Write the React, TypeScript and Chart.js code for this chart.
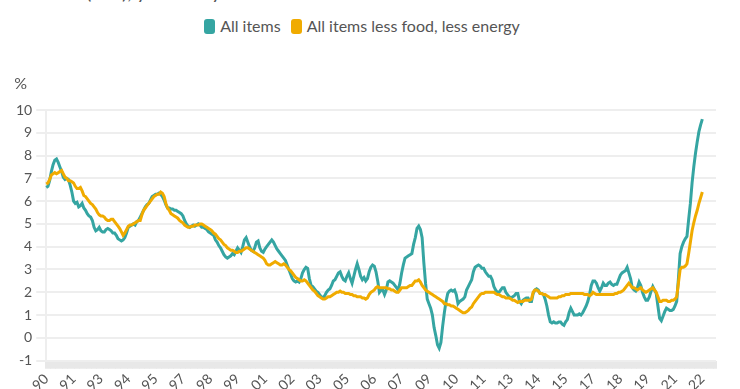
import React, { useEffect, useRef } from "react";
import { Chart, registerables } from "chart.js";

Chart.register(...registerables);

// Monthly series, first value = June 1990
const START_YEAR = 1990;
const START_MONTH = 6;
const EXTRA_MONTHS = 8; // empty months at the right end of the axis
const TICK_STEP = 16;
const TICK_LABELS = ["90", "91", "93", "94", "95", "97", "98", "99", "01", "02", "03", "05", "06", "07", "09", "10", "11", "13", "14", "15", "17", "18", "19", "21", "22"];

const Y_MIN = -1;
const Y_MAX = 10;

const ALL_ITEMS = [
  6.6, 6.65, 6.9, 7.3, 7.6, 7.8, 7.85, 7.7, 7.5, 7.3, 7.05, 6.95,
  7.0, 6.95, 6.7, 6.4, 6.0, 5.9, 5.95, 5.75, 5.8, 5.9, 5.7, 5.6,
  5.45, 5.35, 5.3, 5.15, 4.85, 4.7, 4.75, 4.85, 4.7, 4.65, 4.65, 4.75,
  4.8, 4.75, 4.7, 4.6, 4.6, 4.5, 4.35, 4.3, 4.25, 4.3, 4.4, 4.6,
  4.85, 4.9, 4.95, 5.0, 4.95, 5.1, 5.15, 5.3, 5.45, 5.6, 5.75, 5.85,
  5.9, 6.05, 6.2, 6.25, 6.3, 6.3, 6.35, 6.3, 6.2, 6.05, 5.85, 5.7,
  5.7, 5.65, 5.65, 5.6, 5.6, 5.55, 5.5, 5.45, 5.35, 5.15, 5.0, 4.9,
  4.85, 4.9, 4.95, 4.9, 4.95, 5.0, 4.95, 4.85, 4.85, 4.8, 4.75, 4.65,
  4.6, 4.55, 4.5, 4.3, 4.2, 4.05, 3.95, 3.8, 3.65, 3.55, 3.5, 3.55,
  3.6, 3.7, 3.65, 3.8, 3.95, 3.85, 3.75, 4.0, 4.3, 4.4, 4.2, 4.0,
  3.85, 3.8, 3.95, 4.2, 4.25, 3.95, 3.8, 3.75, 3.9, 4.0, 4.1, 4.2,
  4.3, 4.2, 4.05, 3.9, 3.8, 3.7, 3.6, 3.5, 3.4, 3.2, 3.0, 2.8,
  2.6, 2.5, 2.45, 2.5, 2.45, 2.6, 2.85, 3.0, 3.1, 3.05, 2.6, 2.3,
  2.25, 2.15, 2.05, 2.0, 1.9, 1.8, 1.75, 1.85, 2.0, 2.1, 2.15, 2.3,
  2.5, 2.55, 2.7, 2.85, 2.9, 2.7, 2.55, 2.5, 2.7, 2.85, 2.6, 2.4,
  2.7, 3.0, 3.25, 3.0, 2.7, 2.55, 2.65, 2.5, 2.6, 2.9, 3.1, 3.2,
  3.15, 2.9, 2.5, 2.0, 2.1, 2.1, 1.9, 2.1, 2.45, 2.5, 2.45, 2.4,
  2.3, 2.2, 2.1, 2.4, 2.85, 3.2, 3.5, 3.55, 3.6, 3.65, 3.7, 4.1,
  4.4, 4.8, 4.9, 4.75, 4.4, 3.3, 2.4, 1.7, 1.5, 1.3, 1.0, 0.45,
  0.1, -0.3, -0.45, -0.2, 0.5, 1.1, 1.6, 1.95, 2.05, 2.1, 2.05, 2.1,
  1.9, 1.5, 1.6, 1.65, 1.7, 1.8, 2.1, 2.25, 2.4, 2.55, 2.9, 3.1,
  3.15, 3.2, 3.15, 3.05, 3.05, 2.9, 2.8, 2.7, 2.7, 2.55, 2.25, 2.1,
  2.0, 2.0, 2.1, 2.2, 2.2, 2.0, 1.9, 1.8, 1.75, 1.8, 1.85, 1.95,
  1.95, 1.6, 1.5, 1.65, 1.7, 1.75, 1.75, 1.6, 1.6, 1.95, 2.1, 2.15,
  2.1, 1.95, 1.95, 1.9, 1.7, 1.4, 1.0, 0.7, 0.65, 0.7, 0.65, 0.65,
  0.7, 0.7, 0.6, 0.55, 0.7, 0.8, 1.1, 1.3, 1.15, 1.0, 1.0, 1.0,
  1.05, 1.0, 1.1, 1.25, 1.4, 1.6, 1.9, 2.3, 2.5, 2.5, 2.4, 2.2,
  2.05, 2.2, 2.4, 2.3, 2.3, 2.4, 2.45, 2.35, 2.3, 2.35, 2.35, 2.55,
  2.75, 2.85, 2.9, 2.95, 3.1, 2.85, 2.6, 2.2, 2.1, 2.05, 2.2, 2.45,
  2.3, 2.0, 1.8, 1.65, 1.65, 1.8, 2.05, 2.25, 2.1, 1.95, 1.4, 0.85,
  0.75, 0.95, 1.15, 1.3, 1.25, 1.2, 1.2, 1.25, 1.4, 1.6, 2.6, 3.7,
  4.0, 4.2, 4.35, 4.45, 5.2, 5.9, 6.8, 7.5, 8.1, 8.6, 9.05, 9.35, 9.6,
];

const CORE = [
  6.75, 6.8, 6.95, 7.15, 7.2, 7.25, 7.2, 7.25, 7.3, 7.35, 7.2, 7.05,
  7.0, 6.9, 6.9, 6.85, 6.8, 6.65, 6.55, 6.55, 6.6, 6.45, 6.25, 6.2,
  6.1, 6.0, 5.9, 5.85, 5.75, 5.65, 5.5, 5.4, 5.35, 5.35, 5.3, 5.2,
  5.15, 5.15, 5.2, 5.2, 5.1, 5.0, 4.9, 4.8, 4.65, 4.5, 4.6, 4.75,
  4.9, 4.95, 4.95, 5.0, 5.05, 5.1, 5.15, 5.15, 5.4, 5.6, 5.7, 5.8,
  5.9, 6.0, 6.1, 6.2, 6.25, 6.3, 6.3, 6.4, 6.35, 6.2, 5.9, 5.7,
  5.6, 5.45, 5.4, 5.35, 5.3, 5.25, 5.15, 5.1, 5.05, 4.95, 4.9, 4.85,
  4.85, 4.9, 4.9, 4.95, 4.95, 4.95, 5.0, 5.0, 4.95, 4.9, 4.85, 4.8,
  4.75, 4.7, 4.6, 4.55, 4.45, 4.35, 4.3, 4.2, 4.1, 4.05, 3.95, 3.9,
  3.85, 3.85, 3.8, 3.75, 3.75, 3.8, 3.8, 3.85, 3.9, 3.95, 3.95, 3.9,
  3.85, 3.8, 3.75, 3.7, 3.65, 3.6, 3.55, 3.5, 3.4, 3.25, 3.2, 3.2,
  3.25, 3.3, 3.35, 3.3, 3.25, 3.2, 3.2, 3.25, 3.2, 3.1, 3.0, 2.95,
  2.85, 2.75, 2.65, 2.6, 2.55, 2.5, 2.5, 2.55, 2.5, 2.4, 2.3, 2.2,
  2.1, 2.05, 1.95, 1.85, 1.8, 1.75, 1.7, 1.7, 1.75, 1.8, 1.8, 1.85,
  1.9, 1.95, 2.0, 2.0, 2.05, 2.0, 2.0, 1.95, 1.95, 1.95, 1.9, 1.9,
  1.85, 1.85, 1.8, 1.8, 1.8, 1.75, 1.75, 1.7, 1.75, 1.9, 2.0, 2.05,
  2.1, 2.2, 2.25, 2.2, 2.2, 2.2, 2.2, 2.2, 2.15, 2.15, 2.1, 2.1,
  2.05, 2.0, 2.0, 2.1, 2.2, 2.2, 2.2, 2.2, 2.25, 2.3, 2.3, 2.4,
  2.5, 2.5, 2.55, 2.45, 2.3, 2.2, 2.1, 2.05, 2.0, 1.95, 1.9, 1.85,
  1.8, 1.75, 1.7, 1.65, 1.6, 1.5, 1.5, 1.45, 1.45, 1.4, 1.4, 1.35,
  1.3, 1.25, 1.2, 1.15, 1.1, 1.1, 1.15, 1.2, 1.3, 1.35, 1.5, 1.6,
  1.7, 1.8, 1.9, 1.95, 1.95, 2.0, 2.0, 2.0, 2.0, 2.0, 2.0, 1.95,
  1.9, 1.9, 1.85, 1.8, 1.8, 1.75, 1.75, 1.75, 1.7, 1.65, 1.65, 1.6,
  1.55, 1.6, 1.6, 1.6, 1.65, 1.65, 1.65, 1.65, 1.7, 2.0, 2.1, 2.1,
  2.05, 1.95, 1.95, 1.9, 1.9, 1.85, 1.8, 1.75, 1.75, 1.75, 1.75, 1.75,
  1.8, 1.8, 1.85, 1.85, 1.9, 1.9, 1.9, 1.95, 1.95, 1.95, 1.95, 1.95,
  1.95, 1.95, 1.95, 1.9, 1.9, 1.9, 1.85, 1.9, 2.0, 1.95, 1.9, 1.9,
  1.9, 1.9, 1.9, 1.9, 1.9, 1.9, 1.9, 1.9, 1.9, 1.95, 1.95, 2.0,
  2.0, 2.05, 2.1, 2.2, 2.3, 2.4, 2.3, 2.2, 2.2, 2.15, 2.1, 2.15,
  2.2, 2.1, 2.05, 2.0, 2.05, 2.1, 2.15, 2.2, 2.1, 2.0, 1.8, 1.6,
  1.6, 1.65, 1.65, 1.65, 1.6, 1.6, 1.65, 1.65, 1.7, 1.8, 2.4, 3.0,
  3.1, 3.1, 3.15, 3.25, 3.7, 4.2, 4.7, 5.05, 5.35, 5.6, 5.9, 6.15, 6.4,
];

const SERIES_NAMES = ["All items", "All items less food, less energy"];
const TEAL = "#35a5a2";
const ORANGE = "#f0ab00";
const TEXT = "#555555";
const GRID = "#eeeeee";
const TICK_BAND = "#e8e8e8";
const FONT = "Lato, 'Source Sans Pro', sans-serif";

const categories: string[] = [];
for (let k = 0; k < ALL_ITEMS.length + EXTRA_MONTHS; k++) {
  const m = START_MONTH - 1 + k;
  categories.push(`${START_YEAR + Math.floor(m / 12)}-${String((m % 12) + 1).padStart(2, "0")}`);
}

const percentPlugin = {
  id: "percentLabel",
  afterDraw(chart: any) {
    const { ctx, chartArea } = chart;
    ctx.save();
    ctx.font = `16px ${FONT}`;
    ctx.fillStyle = TEXT;
    ctx.textAlign = "right";
    ctx.textBaseline = "middle";
    ctx.fillText("%", 27, chartArea.top - 26);
    ctx.restore();
  },
};

export default function App() {
  const ref = useRef<HTMLCanvasElement | null>(null);

  useEffect(() => {
    if (!ref.current) return;
    const chart = new Chart(ref.current, {
      type: "line",
      data: {
        labels: categories,
        datasets: [
          {
            label: SERIES_NAMES[1],
            data: CORE,
            borderColor: ORANGE,
            backgroundColor: ORANGE,
            borderWidth: 3,
            pointRadius: 0,
            tension: 0,
          },
          {
            label: SERIES_NAMES[0],
            data: ALL_ITEMS,
            borderColor: TEAL,
            backgroundColor: TEAL,
            borderWidth: 3,
            pointRadius: 0,
            tension: 0,
          },
        ],
      },
      options: {
        animation: false,
        responsive: false,
        devicePixelRatio: 1,
        layout: { padding: { top: 110, right: 24, bottom: 4, left: 12 } },
        plugins: { legend: { display: false }, tooltip: { enabled: false }, title: { display: false } },
        scales: {
          x: {
            type: "category",
            grid: { display: true, drawOnChartArea: false, drawTicks: true, tickLength: 8, color: TICK_BAND, lineWidth: 2 },
            border: { display: false },
            ticks: {
              autoSkip: false,
              minRotation: 45,
              maxRotation: 45,
              padding: 2,
              color: TEXT,
              font: { family: FONT, size: 14 },
              callback: (_v: any, i: number) => (i % TICK_STEP === 0 ? TICK_LABELS[i / TICK_STEP] ?? "" : ""),
            },
          },
          y: {
            min: Y_MIN,
            max: Y_MAX,
            ticks: { stepSize: 1, color: TEXT, padding: 4, font: { family: FONT, size: 14 } },
            grid: { color: GRID, lineWidth: 2, drawTicks: true, tickLength: 10 },
            border: { display: true, color: GRID, width: 2 },
          },
        },
      },
      plugins: [percentPlugin],
    });
    return () => chart.destroy();
  }, []);

  return (
    <div style={{ position: "fixed", left: 0, top: 0, width: 740, height: 400, background: "#fff", overflow: "hidden", fontFamily: FONT }}>
      <div style={{ position: "absolute", left: 8, top: -21, fontSize: 20, color: TEXT, whiteSpace: "nowrap", lineHeight: "24px" }}>
        Inflation (CPI), year-on-year
      </div>
      <div style={{ position: "absolute", left: 0, top: 17, width: 724, display: "flex", justifyContent: "center", alignItems: "center", fontSize: 16, color: TEXT, lineHeight: "18px" }}>
        {[TEAL, ORANGE].map((c, k) => (
          <div key={k} style={{ display: "flex", alignItems: "center", marginLeft: k ? 10 : 0 }}>
            <span style={{ display: "inline-block", width: 11, height: 15, borderRadius: 3, background: c, marginRight: 5 }} />
            <span>{SERIES_NAMES[k]}</span>
          </div>
        ))}
      </div>
      <canvas ref={ref} width={740} height={400} style={{ position: "absolute", left: 0, top: 0 }} />
    </div>
  );
}
